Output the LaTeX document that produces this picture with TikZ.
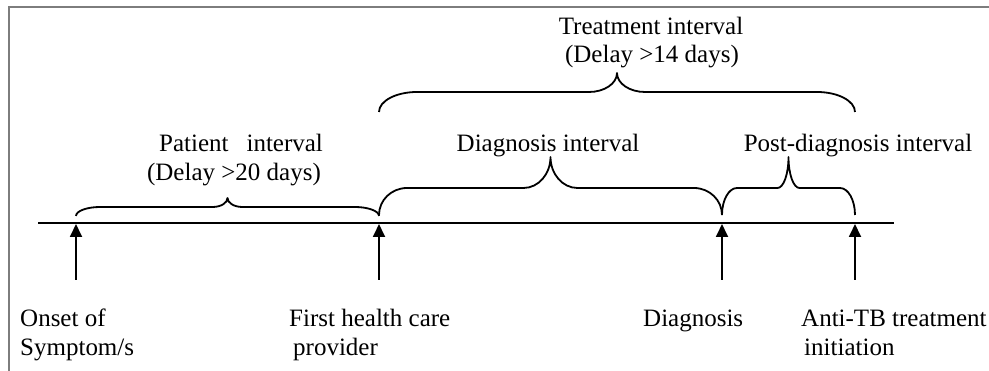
\documentclass[tikz,border=0pt]{standalone}
\usepackage{fontspec}
\setmainfont{Liberation Serif}
\usetikzlibrary{arrows.meta}
\definecolor{framegray}{RGB}{125,125,125}
% #1 left x, #2 right x, #3 end y, #4 flat y, #5 tip y, #6 end radius, #7 tip radius
\newcommand\mybrace[7]{%
  \draw[brc] (#1,#3) .. controls (#1,{#3-0.552*(#3-#4)}) and ({#1+0.448*#6},#4) .. ({#1+#6},#4)
    -- ({(#1+#2)/2-#7},#4) .. controls ({(#1+#2)/2-0.448*#7},#4) and ({(#1+#2)/2},{#4-0.448*(#4-#5)}) .. ({(#1+#2)/2},#5)
    .. controls ({(#1+#2)/2},{#4-0.448*(#4-#5)}) and ({(#1+#2)/2+0.448*#7},#4) .. ({(#1+#2)/2+#7},#4)
    -- ({#2-#6},#4) .. controls ({#2-0.448*#6},#4) and (#2,{#3-0.552*(#3-#4)}) .. (#2,#3);}
\begin{document}
\begin{tikzpicture}[x=1pt,y=-1pt,
  lbl/.style={inner sep=0pt, font=\fontsize{25}{29}\selectfont},
  tline/.style={line width=1.8pt},
  evarrow/.style={line width=1.8pt, -{Triangle[length=13pt,width=12pt]}},
  brc/.style={line width=1.8pt, line join=round}]
\useasboundingbox (0,0) rectangle (989,371);
\draw[line width=2pt, framegray] (9,371) -- (9,7) -- (989,7);

% timeline
\coordinate (tl0) at (38,223);
\coordinate (tl1) at (894,223);
\draw[tline] (tl0) -- (tl1);

% event arrows
\coordinate (onsetB) at (76,280);  \coordinate (onsetT) at (76,224);
\coordinate (fhcB) at (379,280);   \coordinate (fhcT) at (379,224);
\coordinate (dxB) at (722,280);    \coordinate (dxT) at (722,224);
\coordinate (antiB) at (855,280);  \coordinate (antiT) at (855,224);
\draw[evarrow] (onsetB) -- (onsetT);
\draw[evarrow] (fhcB) -- (fhcT);
\draw[evarrow] (dxB) -- (dxT);
\draw[evarrow] (antiB) -- (antiT);

% braces
\mybrace{76}{379}{216}{207}{198}{24}{15}
\mybrace{379}{722}{215}{188}{157}{28}{27}
\mybrace{722}{855}{215}{188}{157}{15}{11}
\mybrace{379}{855}{112}{92}{73}{38}{28}

% interval labels
\node[lbl, anchor=base] (treat1) at (651,35) {Treatment interval};
\node[lbl, anchor=base] (treat2) at (652,63) {(Delay >14 days)};
\node[lbl, anchor=base] (pat1) at (241,152) {Patient\hspace*{18pt}interval};
\node[lbl, anchor=base] (pat2) at (234,181) {(Delay >20 days)};
\node[lbl, anchor=base] (diagint) at (548,152) {Diagnosis interval};
\node[lbl, anchor=base] (postint) at (858,152) {Post-diagnosis interval};

% event labels
\node[lbl, anchor=base west] (onset1) at (20,327) {Onset of};
\node[lbl, anchor=base west] (onset2) at (20,356) {Symptom/s};
\node[lbl, anchor=base west] (fhc1) at (289,327) {First health care};
\node[lbl, anchor=base west] (fhc2) at (293,356) {provider};
\node[lbl, anchor=base west] (dx) at (643,327) {Diagnosis};
\node[lbl, anchor=base west] (anti1) at (801,327) {Anti-TB treatment};
\node[lbl, anchor=base west] (anti2) at (804,356) {initiation};
\end{tikzpicture}
\end{document}
